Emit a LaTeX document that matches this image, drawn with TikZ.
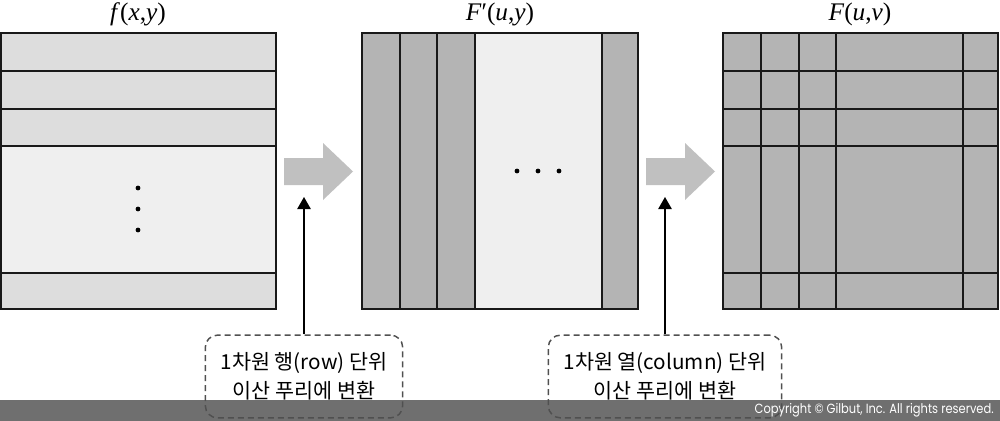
\documentclass[tikz,border=0pt]{standalone}
\usepackage{fontspec}
\setmainfont{Liberation Serif}
\newfontfamily\kofont{Noto Sans CJK KR}
\newfontfamily\copyfont[FakeStretch=0.86]{Poppins}
\usetikzlibrary{arrows.meta, positioning, calc}
\definecolor{RowGray}{RGB}{221, 221, 221}
\definecolor{PaleGray}{RGB}{239, 239, 239}
\definecolor{ColGray}{RGB}{180, 180, 180}
\definecolor{ArrowGray}{RGB}{192, 192, 192}
\definecolor{BarGray}{RGB}{111, 111, 111}
\definecolor{DashGray}{RGB}{80, 80, 80}

\begin{document}
\begin{tikzpicture}[x=0.75pt, y=-0.75pt,
    grid/.style={draw=black!90, line width=1.4pt},
    title/.style={font=\fontsize{19pt}{21pt}\selectfont},
    note/.style={draw=DashGray, line width=1.1pt, dash pattern=on 4.5pt off 3pt,
      rounded corners=9pt, minimum height=62pt, align=center,
      font=\kofont\fontsize{15.5pt}{21pt}\selectfont}]
    \useasboundingbox (0,0) rectangle (1000,421);

    % f(x,y)
    \node[title] (tf) at (138,14) {\textit{f}(\textit{x},\textit{y})};
    \fill[PaleGray] (1,33) rectangle (276,309);
    \foreach \ya/\yb in {33/71, 71/109, 109/146, 273/309}
      \fill[RowGray] (1,\ya) rectangle (276,\yb);
    \foreach \y in {71, 109, 146, 273}
      \draw[grid] (1,\y) -- (276,\y);
    \draw[grid] (1,33) rectangle (276,309);
    \foreach \y in {188, 209, 230}
      \fill (138,\y) circle (2.4);

    % F'(u,y)
    \node[title] (tfu) at (500,14) {\textit{F}′(\textit{u},\textit{y})};
    \fill[PaleGray] (362,33) rectangle (638,309);
    \foreach \xa/\xb in {362/400, 400/437, 437/475, 602/638}
      \fill[ColGray] (\xa,33) rectangle (\xb,309);
    \foreach \x in {400, 437, 475, 602}
      \draw[grid] (\x,33) -- (\x,309);
    \draw[grid] (362,33) rectangle (638,309);
    \foreach \x in {517, 538, 559}
      \fill (\x,171) circle (2.4);

    % F(u,v)
    \node[title] (tF) at (860,14) {\textit{F}(\textit{u},\textit{v})};
    \fill[ColGray] (723,33) rectangle (998,309);
    \foreach \y in {71, 109, 146, 273}
      \draw[grid] (723,\y) -- (998,\y);
    \foreach \x in {761, 799, 836, 963}
      \draw[grid] (\x,33) -- (\x,309);
    \draw[grid] (723,33) rectangle (998,309);

    % Flechas grises
    \foreach \dx in {0, 362}
      \fill[ArrowGray] (284+\dx,158) -- (323+\dx,158) -- (323+\dx,143)
        -- (353+\dx,171.5) -- (323+\dx,200) -- (323+\dx,185) -- (284+\dx,185) -- cycle;

    % Copyright
    \fill[BarGray] (0,400) rectangle (1000,421);
    \node[anchor=east, white, font=\copyfont\fontsize{10pt}{11pt}\selectfont, inner sep=0pt]
      (copy) at (994,410.5) {Copyright © Gilbut, Inc. All rights reserved.};

    % Notas
    \node[note, minimum width=148pt] (rownote) at (304,376.5)
      {1차원 행(row) 단위\\[1pt]이산 푸리에 변환};
    \node[note, minimum width=175pt] (colnote) at (665,376.5)
      {1차원 열(column) 단위\\[1pt]이산 푸리에 변환};
    \coordinate (rowtip) at (304,197);
    \coordinate (coltip) at (665,197);
    \draw[line width=1.1pt, -{Triangle[length=9pt, width=10pt]}] (rownote.north) -- (rowtip);
    \draw[line width=1.1pt, -{Triangle[length=9pt, width=10pt]}] (colnote.north) -- (coltip);
\end{tikzpicture}
\end{document}
